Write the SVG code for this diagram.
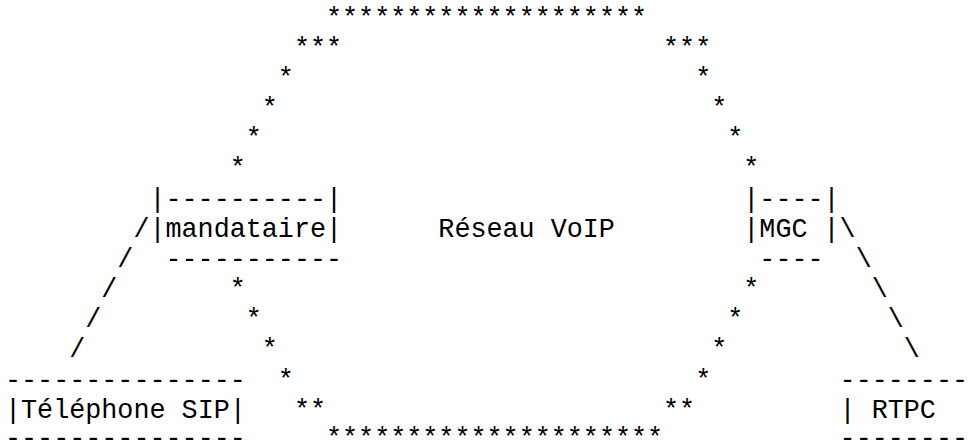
<svg xmlns="http://www.w3.org/2000/svg" width="974" height="446" viewBox="0 0 974 446">
<style>
text{font-family:"Liberation Mono","DejaVu Sans Mono",monospace;font-size:26.75px;fill:#000;white-space:pre}
</style>
<rect width="974" height="446" fill="#fff"/>
<g id="reseau-voip">
<text x="326" y="25.5">********************</text>
<text x="293.9" y="55.67">***</text>
<text x="663.05" y="55.67">***</text>
<text x="277.85" y="85.84">*</text>
<text x="695.15" y="85.84">*</text>
<text x="261.8" y="116.01">*</text>
<text x="711.2" y="116.01">*</text>
<text x="245.75" y="146.18">*</text>
<text x="727.25" y="146.18">*</text>
<text x="229.7" y="176.35">*</text>
<text x="743.3" y="176.35">*</text>
<text x="438.35" y="236.69">Réseau VoIP</text>
<text x="229.7" y="297.03">*</text>
<text x="743.3" y="297.03">*</text>
<text x="245.75" y="327.2">*</text>
<text x="727.25" y="327.2">*</text>
<text x="261.8" y="357.37">*</text>
<text x="711.2" y="357.37">*</text>
<text x="277.85" y="387.54">*</text>
<text x="695.15" y="387.54">*</text>
<text x="293.9" y="417.71">**</text>
<text x="663.05" y="417.71">**</text>
<text x="326" y="446">*********************</text>
</g>
<g id="mandataire">
<text x="149.45" y="206.52">|----------|</text>
<text x="149.45" y="236.69">|mandataire|</text>
<text x="165.5" y="266.86">-----------</text>
</g>
<g id="mgc">
<text x="743.3" y="206.52">|----|</text>
<text x="743.3" y="236.69">|MGC |</text>
<text x="759.35" y="266.86">----</text>
</g>
<g id="telephone-sip">
<text x="5" y="387.54">---------------</text>
<text x="5" y="417.71">|Téléphone SIP|</text>
<text x="5" y="446">---------------</text>
</g>
<g id="rtpc">
<text x="839.6" y="387.54">--------</text>
<text x="839.6" y="417.71">| RTPC</text>
<text x="839.6" y="446">--------</text>
</g>
<g id="connectors">
<text x="133.4" y="236.69">/</text>
<text x="117.35" y="266.86">/</text>
<text x="101.3" y="297.03">/</text>
<text x="85.25" y="327.2">/</text>
<text x="69.2" y="357.37">/</text>
<text x="839.6" y="236.69">\</text>
<text x="855.65" y="266.86">\</text>
<text x="871.7" y="297.03">\</text>
<text x="887.75" y="327.2">\</text>
<text x="903.8" y="357.37">\</text>
</g>
</svg>
